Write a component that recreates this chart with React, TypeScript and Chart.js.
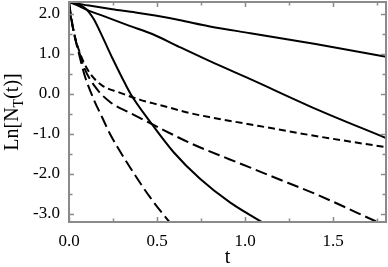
import { useEffect, useRef } from 'react';
import { Chart, registerables } from 'chart.js';
Chart.register(...registerables);

// Solid curves
const T_S1 = [0, 0.05, 0.114, 0.246, 0.378, 0.49, 0.625, 0.8, 1.03, 1.4, 1.8];
const V_S1 = [2.3, 2.26, 2.21, 2.12, 2.04, 1.96, 1.85, 1.69, 1.52, 1.25, 0.93];
const T_S2 = [0, 0.057, 0.114, 0.19, 0.34, 0.473, 0.625, 0.8, 1.03, 1.4, 1.8];
const V_S2 = [2.3, 2.2, 2.08, 1.96, 1.71, 1.5, 1.18, 0.82, 0.37, -0.37, -1.1];
const T_S3 = [0, 0.05, 0.09, 0.114, 0.142, 0.189, 0.246, 0.3, 0.35, 0.47, 0.593, 0.744, 0.914, 1.1, 1.15];
const V_S3 = [2.3, 2.25, 2.15, 2.04, 1.86, 1.44, 0.9, 0.42, 0.0, -0.75, -1.45, -2.12, -2.71, -3.21, -3.33];
// Dashed curves
const T_D1 = [0, 0.01, 0.025, 0.04, 0.06, 0.085, 0.125, 0.189, 0.284, 0.4, 0.52, 0.69, 0.8, 1.08, 1.4, 1.8];
const V_D1 = [2.3, 1.95, 1.6, 1.32, 1.05, 0.78, 0.48, 0.21, 0.04, -0.14, -0.28, -0.48, -0.58, -0.8, -1.05, -1.33];
const T_D2 = [0, 0.01, 0.025, 0.04, 0.06, 0.085, 0.15, 0.233, 0.34, 0.47, 0.69, 0.91, 1.03, 1.14, 1.4, 1.75, 1.8];
const V_D2 = [2.3, 1.95, 1.6, 1.3, 1.02, 0.67, 0.17, -0.2, -0.46, -0.75, -1.23, -1.63, -1.84, -2.04, -2.5, -3.2, -3.3];
const T_D3 = [0, 0.01, 0.025, 0.04, 0.057, 0.075, 0.095, 0.142, 0.19, 0.233, 0.346, 0.46, 0.58, 0.6];
const V_D3 = [2.3, 2.0, 1.6, 1.3, 1.0, 0.68, 0.38, -0.15, -0.6, -1.0, -1.83, -2.58, -3.25, -3.35];

const X_TICKS = [0, 0.25, 0.5, 0.75, 1.0, 1.25, 1.5, 1.75];
const X_LABELS = ['0.0', '', '0.5', '', '1.0', '', '1.5', ''];
const Y_TICKS = [-3.0, -2.5, -2.0, -1.5, -1.0, -0.5, 0.0, 0.5, 1.0, 1.5, 2.0];
const Y_LABELS = ['-3.0', '', '-2.0', '', '-1.0', '', '0.0', '', '1.0', '', '2.0'];

const FONT = '"Liberation Serif", "Times New Roman", Times, serif';
const AXIS_COLOR = '#8a8a8a';

const pts = (t: number[], v: number[]) => t.map((x, i) => ({ x, y: v[i] }));

const framePlugin = {
  id: 'frame',
  afterDraw(chart: any) {
    const { ctx, chartArea: a, scales } = chart;
    const xs = scales.x, ys = scales.y;
    ctx.save();
    ctx.strokeStyle = AXIS_COLOR;
    ctx.lineWidth = 2;
    ctx.strokeRect(a.left, a.top, a.right - a.left, a.bottom - a.top);
    ctx.lineWidth = 1.5;
    ctx.beginPath();
    X_TICKS.forEach((v, i) => {
      const L = X_LABELS[i] ? 5 : 3.5;
      const x = Math.round(xs.getPixelForValue(v)) + 0.5;
      ctx.moveTo(x, a.bottom); ctx.lineTo(x, a.bottom - L);
      ctx.moveTo(x, a.top); ctx.lineTo(x, a.top + L);
    });
    Y_TICKS.forEach((v, i) => {
      const L = Y_LABELS[i] ? 5 : 3.5;
      const y = Math.round(ys.getPixelForValue(v)) + 0.5;
      ctx.moveTo(a.left, y); ctx.lineTo(a.left + L, y);
      ctx.moveTo(a.right, y); ctx.lineTo(a.right - L, y);
    });
    ctx.stroke();

    // axis titles
    ctx.fillStyle = '#000';
    ctx.textBaseline = 'alphabetic';
    ctx.textAlign = 'center';
    ctx.font = `20px ${FONT}`;
    ctx.fillText('t', (a.left + a.right) / 2, 263);

    const mainF = `20px ${FONT}`;
    const subF = `14px ${FONT}`;
    ctx.font = mainF;
    const w1 = ctx.measureText('Ln[N').width;
    const w3 = ctx.measureText('(t)]').width;
    ctx.font = subF;
    const w2 = ctx.measureText('T').width;
    const total = w1 + w2 + w3;
    ctx.translate(18, (a.top + a.bottom) / 2);
    ctx.rotate(-Math.PI / 2);
    ctx.textAlign = 'left';
    let p = -total / 2;
    ctx.font = mainF;
    ctx.fillText('Ln[N', p, 0);
    p += w1;
    ctx.font = subF;
    ctx.fillText('T', p, 5);
    p += w2;
    ctx.font = mainF;
    ctx.fillText('(t)]', p, 0);
    ctx.restore();
  },
};

export default function App() {
  const ref = useRef<HTMLCanvasElement | null>(null);
  useEffect(() => {
    document.body.style.margin = '0';
    const solid = { borderColor: '#000', borderWidth: 2, pointRadius: 0, showLine: true, fill: false, cubicInterpolationMode: 'monotone' as const };
    const shortDash = { ...solid, borderDash: [7, 4] };
    const longDash = { ...solid, borderDash: [12, 5] };
    const chart = new Chart(ref.current!, {
      type: 'scatter',
      data: {
        datasets: [
          { ...solid, data: pts(T_S1, V_S1) },
          { ...solid, data: pts(T_S2, V_S2) },
          { ...solid, data: pts(T_S3, V_S3) },
          { ...shortDash, data: pts(T_D1, V_D1) },
          { ...longDash, data: pts(T_D2, V_D2) },
          { ...longDash, data: pts(T_D3, V_D3) },
        ] as any,
      },
      options: {
        animation: false,
        responsive: false,
        maintainAspectRatio: false,
        layout: { padding: { top: 2, right: 2, left: 0, bottom: 0 } },
        plugins: { legend: { display: false }, tooltip: { enabled: false } },
        scales: {
          x: {
            type: 'linear',
            min: 0,
            max: 1.8,
            grid: { display: false, drawTicks: false },
            border: { display: false },
            afterBuildTicks: (s: any) => { s.ticks = X_TICKS.map((value) => ({ value })); },
            afterFit: (s: any) => { s.height = 45; s.paddingLeft = 0; s.paddingRight = 0; },
            ticks: {
              autoSkip: false,
              maxRotation: 0,
              padding: 9,
              color: '#000',
              font: { family: FONT, size: 17 },
              callback: (v: any) => { const i = X_TICKS.indexOf(Number(v)); return i >= 0 ? X_LABELS[i] : ''; },
            },
          },
          y: {
            type: 'linear',
            min: -3.2,
            max: 2.3,
            grid: { display: false, drawTicks: false },
            border: { display: false },
            afterBuildTicks: (s: any) => { s.ticks = Y_TICKS.map((value) => ({ value })); },
            afterFit: (s: any) => { s.width = 69; s.paddingTop = 0; s.paddingBottom = 0; },
            ticks: {
              autoSkip: false,
              padding: 9,
              color: '#000',
              font: { family: FONT, size: 17 },
              callback: (v: any) => { const i = Y_TICKS.indexOf(Number(v)); return i >= 0 ? Y_LABELS[i] : ''; },
            },
          },
        },
      },
      plugins: [framePlugin],
    });
    return () => chart.destroy();
  }, []);
  return (
    <div style={{ width: 388, height: 267 }}>
      <canvas ref={ref} width={388} height={267} style={{ display: 'block', width: 388, height: 267 }} />
    </div>
  );
}
